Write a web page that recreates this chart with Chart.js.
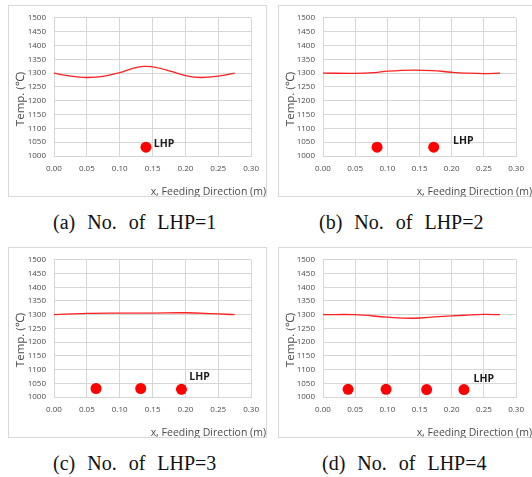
<!DOCTYPE html>
<html>
<head>
<meta charset="utf-8">
<script src="https://cdn.jsdelivr.net/npm/chart.js@4"></script>
<style>
  html, body { margin:0; padding:0; background:#fff; }
  body { width:532px; height:477px; position:relative; overflow:hidden; }
  .box { position:absolute; border:1px solid #d9d9d9; box-sizing:border-box; }
  canvas { position:absolute; }
  .cap { position:absolute; font-family:"Liberation Serif","Times New Roman",serif; font-size:20px; line-height:20px; color:#111; white-space:nowrap; word-spacing:7px; }
</style>
</head>
<body>
<div class="box" style="left:8px;top:5px;width:259px;height:192px"></div>
<div class="box" style="left:278px;top:5px;width:260px;height:192px"></div>
<div class="box" style="left:8px;top:247px;width:259px;height:191px"></div>
<div class="box" style="left:278px;top:247px;width:260px;height:191px"></div>
<canvas id="ca" width="259" height="192" style="left:8px;top:5px"></canvas>
<canvas id="cb" width="254" height="192" style="left:278px;top:5px"></canvas>
<canvas id="cc" width="259" height="191" style="left:8px;top:247px"></canvas>
<canvas id="cd" width="254" height="191" style="left:278px;top:247px"></canvas>
<div class="cap" style="left:53px;top:212px">(a) No. of LHP=1</div>
<div class="cap" style="left:319px;top:212px">(b) No. of LHP=2</div>
<div class="cap" style="left:53px;top:453px">(c) No. of LHP=3</div>
<div class="cap" style="left:322px;top:453px">(d) No. of LHP=4</div>
<script>
// ---------------- DATA ----------------
const xTicks = [0.00, 0.05, 0.10, 0.15, 0.20, 0.25, 0.30];
const yTicks = [1000, 1050, 1100, 1150, 1200, 1250, 1300, 1350, 1400, 1450, 1500];
const xTitle = "x, Feeding Direction (m)";
const yTitle = "Temp. (\u2103)";
const lhpText = "LHP";

// (a) No. of LHP = 1
const curveXa = [0, 0.025, 0.05, 0.075, 0.10, 0.12, 0.137, 0.155, 0.18, 0.20, 0.223, 0.25, 0.275];
const curveYa = [1300, 1289, 1284, 1288, 1302, 1317, 1324, 1321, 1305, 1291, 1284, 1289, 1300];
const dotXa = [0.140];
const dotYa = [1032];
const labelPosA = [0.152, 1042];

// (b) No. of LHP = 2
const curveXb = [0, 0.05, 0.08, 0.10, 0.14, 0.17, 0.20, 0.22, 0.25, 0.275];
const curveYb = [1300, 1299, 1302, 1307, 1311, 1309, 1303, 1300, 1298, 1300];
const dotXb = [0.084, 0.172];
const dotYb = [1032, 1032];
const labelPosB = [0.202, 1053];

// (c) No. of LHP = 3
const curveXc = [0, 0.05, 0.10, 0.15, 0.20, 0.24, 0.275];
const curveYc = [1300, 1305, 1306, 1306, 1307, 1304, 1300];
const dotXc = [0.064, 0.132, 0.194];
const dotYc = [1031, 1031, 1028];
const labelPosC = [0.206, 1074];

// (d) No. of LHP = 4
const curveXd = [0, 0.05, 0.10, 0.14, 0.18, 0.22, 0.25, 0.275];
const curveYd = [1300, 1300, 1291, 1287, 1293, 1298, 1301, 1300];
const dotXd = [0.039, 0.098, 0.161, 0.219];
const dotYd = [1028, 1028, 1027, 1027];
const labelPosD = [0.234, 1067];

// ---------------- DRAWING ----------------
const TICK_FONT = { family: "'Open Sans', 'Liberation Sans', sans-serif", size: 8 };
const GRID = '#d6d6d6';
const TXT = '#4a4a4a';

const annot = {
  id: 'annot',
  afterDraw(chart, args, o) {
    const { ctx, scales: { x, y } } = chart;
    ctx.save();
    ctx.font = "bold 10.5px 'Open Sans', 'Liberation Sans', sans-serif";
    ctx.fillStyle = '#1a1a1a';
    ctx.textAlign = 'left';
    ctx.textBaseline = 'middle';
    ctx.fillText(lhpText, x.getPixelForValue(o.label[0]), y.getPixelForValue(o.label[1]));
    ctx.font = "10.5px 'Open Sans', 'Liberation Sans', sans-serif";
    ctx.fillStyle = TXT;
    ctx.textAlign = 'right';
    ctx.fillText(xTitle, o.xtRight, o.xtY);
    ctx.translate(o.ytX, o.ytY);
    ctx.rotate(-Math.PI / 2);
    ctx.textAlign = 'center';
    ctx.font = "11.5px 'Open Sans', 'Liberation Sans', sans-serif";
    ctx.fillText(yTitle, 0, 0);
    ctx.restore();
  }
};

function pts(xs, ys) { return xs.map((v, i) => ({ x: v, y: ys[i] })); }

function make(id, cx, cy, dx, dy, label, g) {
  new Chart(document.getElementById(id), {
    type: 'scatter',
    data: {
      datasets: [
        { data: pts(cx, cy), showLine: true, borderColor: '#ff2020', borderWidth: 1.3,
          pointRadius: 0, tension: 0.4, fill: false },
        { data: pts(dx, dy), showLine: false, pointRadius: 5.5, pointHoverRadius: 5.5,
          backgroundColor: '#ff0000', borderColor: '#ff0000', borderWidth: 0 }
      ]
    },
    options: {
      responsive: false, animation: false, devicePixelRatio: 1,
      layout: { padding: { top: g.top, right: g.right, left: 0, bottom: 0 } },
      plugins: { legend: { display: false }, tooltip: { enabled: false },
        annot: { label: label, xtRight: g.xtRight, xtY: g.xtY, ytX: g.ytX, ytY: g.ytY } },
      scales: {
        x: { type: 'linear', min: 0, max: 0.30,
          afterBuildTicks: s => { s.ticks = xTicks.map(v => ({ value: v })); },
          afterFit: s => { s.height = g.xh; },
          grid: { color: GRID, drawTicks: false },
          border: { color: GRID },
          ticks: { font: TICK_FONT, color: TXT, padding: 8, maxRotation: 0,
            callback: v => v.toFixed(2) } },
        y: { type: 'linear', min: 1000, max: 1500,
          afterBuildTicks: s => { s.ticks = yTicks.map(v => ({ value: v })); },
          afterFit: s => { s.width = g.yw; },
          grid: { color: GRID, drawTicks: false },
          border: { color: GRID },
          ticks: { font: TICK_FONT, color: TXT, padding: 8,
            callback: v => String(v) } }
      }
    },
    plugins: [annot]
  });
}

make('ca', curveXa, curveYa, dotXa, dotYa, labelPosA,
  { top: 9, right: 14, xh: 41, yw: 46, xtRight: 258, xtY: 187, ytX: 13, ytY: 94 });
make('cb', curveXb, curveYb, dotXb, dotYb, labelPosB,
  { top: 9, right: 9, xh: 41, yw: 45, xtRight: 254, xtY: 187, ytX: 13, ytY: 94 });
make('cc', curveXc, curveYc, dotXc, dotYc, labelPosC,
  { top: 8, right: 15, xh: 41, yw: 46, xtRight: 258, xtY: 186, ytX: 13, ytY: 93 });
make('cd', curveXd, curveYd, dotXd, dotYd, labelPosD,
  { top: 8, right: 10, xh: 41, yw: 45, xtRight: 254, xtY: 186, ytX: 13, ytY: 93 });
</script>
</body>
</html>
